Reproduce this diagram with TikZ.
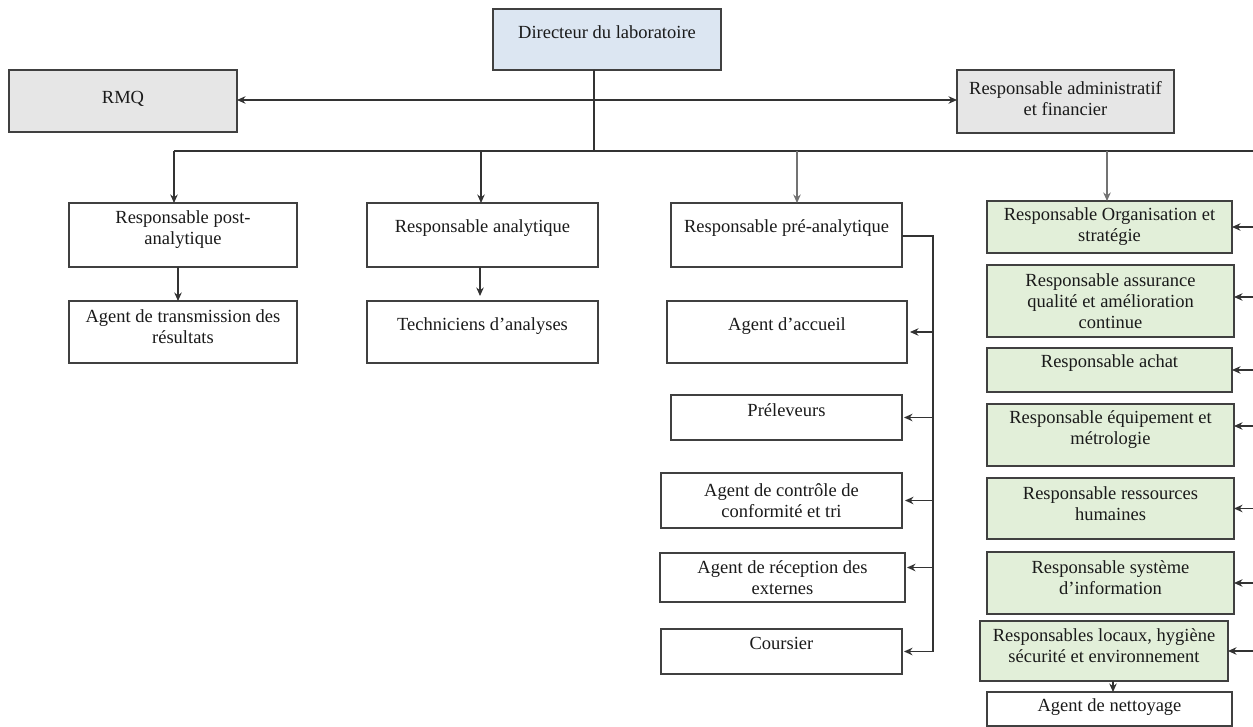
\documentclass[tikz,border=0pt]{standalone}
\usepackage{fontspec}
\setmainfont{Liberation Serif}
\usetikzlibrary{arrows.meta}
\definecolor{dirblue}{HTML}{DCE6F2}
\definecolor{greybox}{HTML}{E6E6E6}
\definecolor{greenbox}{HTML}{E2EFD9}
\definecolor{inkc}{HTML}{1A1A1A}
\begin{document}
\begin{tikzpicture}[x=1pt,y=-1pt,
  box/.style={draw=black!75, line width=1.4pt, inner sep=0pt, outer sep=0pt},
  tx/.style={align=center, font=\fontsize{18.5}{21}\selectfont, text=inkc},
  ln/.style={draw=black!80, line width=1.3pt},
  lng/.style={draw=black!55, line width=1.3pt},
  arr/.style={ln, -{Stealth[length=8.5pt,width=7.5pt]}},
  arrg/.style={lng, -{Stealth[length=8.5pt,width=7.5pt]}}]
\fill[white] (0,0) rectangle (1253,727);
\useasboundingbox (0,0) rectangle (1253,727);

% top level
\node[box, fill=dirblue, minimum width=228pt, minimum height=61pt,
  label={[tx,yshift=7.5pt]center:{Directeur du laboratoire}}] (dir) at (607,39.5) {};
\node[box, fill=greybox, minimum width=228pt, minimum height=62pt,
  label={[tx,yshift=2pt]center:{RMQ}}] (rmq) at (123,101) {};
\node[box, fill=greybox, minimum width=217pt, minimum height=63pt,
  label={[tx,yshift=3pt]center:{Responsable administratif\\et financier}}] (adm) at (1065.5,101.5) {};

% column 1
\node[box, fill=white, minimum width=228pt, minimum height=64pt,
  label={[tx,yshift=5pt]center:{Responsable post-\\analytique}}] (post) at (183,235) {};
\node[box, fill=white, minimum width=228pt, minimum height=62pt,
  label={[tx,yshift=5pt]center:{Agent de transmission des\\résultats}}] (trans) at (183,332) {};

% column 2
\node[box, fill=white, minimum width=231pt, minimum height=64pt,
  label={[tx,yshift=7pt]center:{Responsable analytique}}] (ana) at (482.5,235) {};
\node[box, fill=white, minimum width=231pt, minimum height=62pt,
  label={[tx,yshift=6pt]center:{Techniciens d’analyses}}] (tech) at (482.5,332) {};

% column 3
\node[box, fill=white, minimum width=231pt, minimum height=64pt,
  label={[tx,yshift=7pt]center:{Responsable pré-analytique}}] (pre) at (786.5,235) {};
\node[box, fill=white, minimum width=240pt, minimum height=62pt,
  label={[tx,yshift=6pt]center:{Agent d’accueil}}] (acc) at (787,332) {};
\node[box, fill=white, minimum width=231pt, minimum height=45pt,
  label={[tx,yshift=7pt]center:{Préleveurs}}] (prel) at (786.5,417.5) {};
\node[box, fill=white, minimum width=241pt, minimum height=55pt,
  label={[tx]center:{Agent de contrôle de\\conformité et tri}}] (ctrl) at (781.5,500.5) {};
\node[box, fill=white, minimum width=245pt, minimum height=49pt,
  label={[tx]center:{Agent de réception des\\externes}}] (rec) at (782.5,577.5) {};
\node[box, fill=white, minimum width=241pt, minimum height=45pt,
  label={[tx,yshift=8pt]center:{Coursier}}] (cour) at (781.5,651.5) {};

% column 4
\node[box, fill=greenbox, minimum width=245pt, minimum height=52pt,
  label={[tx]center:{Responsable Organisation et\\stratégie}}] (org) at (1109.5,227) {};
\node[box, fill=greenbox, minimum width=247pt, minimum height=72pt,
  label={[tx]center:{Responsable assurance\\qualité et amélioration\\continue}}] (ass) at (1110.5,301) {};
\node[box, fill=greenbox, minimum width=245pt, minimum height=44pt,
  label={[tx,yshift=7pt]center:{Responsable achat}}] (ach) at (1109.5,370) {};
\node[box, fill=greenbox, minimum width=247pt, minimum height=62pt,
  label={[tx,yshift=5pt]center:{Responsable équipement et\\métrologie}}] (equ) at (1110.5,435) {};
\node[box, fill=greenbox, minimum width=247pt, minimum height=61pt,
  label={[tx,yshift=5pt]center:{Responsable ressources\\humaines}}] (rh) at (1110.5,508.5) {};
\node[box, fill=greenbox, minimum width=247pt, minimum height=62pt,
  label={[tx,yshift=5pt]center:{Responsable système\\d’information}}] (si) at (1110.5,583) {};
\node[box, fill=greenbox, minimum width=248pt, minimum height=60pt,
  label={[tx,yshift=5pt]center:{Responsables locaux, hygiène\\sécurité et environnement}}] (loc) at (1104,651) {};
\node[box, fill=white, minimum width=245pt, minimum height=34pt,
  label={[tx,yshift=2pt]center:{Agent de nettoyage}}] (net) at (1109.5,709) {};

% junction coordinates
\coordinate (dj) at (594,100);
\coordinate (bm) at (594,151);
\coordinate (bl) at (174,151);
\coordinate (br) at (1253,151);
\coordinate (b2) at (481,151);
\coordinate (b3) at (797,151);
\coordinate (b4) at (1107,151);
\coordinate (pk) at (933,236);
\coordinate (recA) at ([yshift=10pt]rec.east);
\coordinate (assA) at ([yshift=4pt]ass.east);
\coordinate (equA) at ([yshift=9pt]equ.east);
\coordinate (postS) at ([xshift=-5pt]post.south);
\coordinate (anaS) at ([xshift=-2.5pt]ana.south);
\coordinate (locS) at ([xshift=9pt]loc.south);

% top connectors
\draw[ln] (dj |- dir.south) -- (bm);
\draw[arr] (dj) -- (dj -| rmq.east);
\draw[arr] (dj) -- (dj -| adm.west);
\draw[ln] (bl) -- (br);
\draw[arr] (bl) -- (bl |- post.north);
\draw[arr] (b2) -- (b2 |- ana.north);
\draw[arrg] (b3) -- (b3 |- pre.north);
\draw[arrg] (b4) -- (b4 |- org.north);

% column 1 and 2
\draw[arr] (postS) -- (postS |- trans.north);
\draw[arr, shorten >=5pt] (anaS) -- (anaS |- tech.north);

% column 3 bracket
\draw[ln] (pre.east |- pk) -- (pk) -- (pk |- cour.east);
\draw[arr, shorten >=3pt] (pk |- acc.east) -- (acc.east);
\draw[arr, shorten >=2pt] (pk |- prel.east) -- (prel.east);
\draw[arr, shorten >=3pt] (pk |- ctrl.east) -- (ctrl.east);
\draw[arr, shorten >=2pt] (pk |- recA) -- (recA);
\draw[arr, shorten >=2pt] (pk |- cour.east) -- (cour.east);

% column 4 arrows from right edge
\draw[arr] (br |- org.east) -- (org.east);
\draw[arr] (br |- assA) -- (assA);
\draw[arr] (br |- ach.east) -- (ach.east);
\draw[arr] (br |- equA) -- (equA);
\draw[arr] (br |- rh.east) -- (rh.east);
\draw[arr] (br |- si.east) -- (si.east);
\draw[arr] (br |- loc.east) -- (loc.east);
\draw[arr] (locS) -- (locS |- net.north);
\end{tikzpicture}
\end{document}
